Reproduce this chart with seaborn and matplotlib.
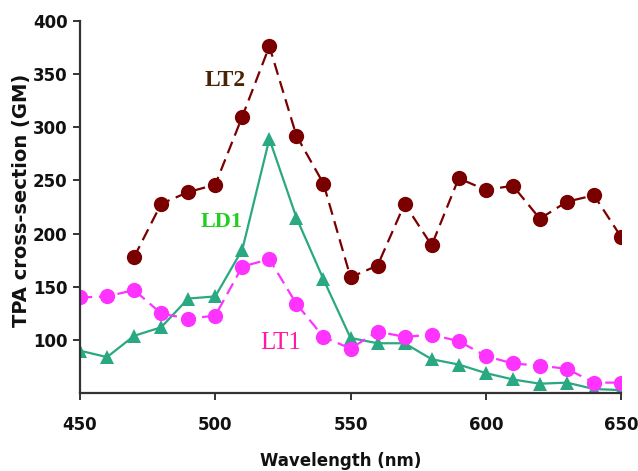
import numpy as np
import pandas as pd
import matplotlib
matplotlib.use("Agg")
import matplotlib.pyplot as plt
import seaborn as sns

# ---------- Data ----------
wavelength = [450, 460, 470, 480, 490, 500, 510, 520, 530, 540, 550,
              560, 570, 580, 590, 600, 610, 620, 630, 640, 650]

lt2 = [np.nan, np.nan, 178, 228, 239, 246, 310, 376, 292, 247, 159,
       170, 228, 189, 252, 241, 245, 214, 230, 236, 197]
ld1 = [90, 84, 104, 112, 139, 141, 185, 289, 215, 157, 102,
       97, 97, 82, 77, 69, 63, 59, 60, 54, 53]
lt1 = [140, 141, 147, 125, 120, 123, 169, 176, 134, 103, 92,
       108, 103, 105, 99, 85, 78, 76, 73, 60, 60]

series_names = ["LT2", "LD1", "LT1"]
colors = {"LT2": "#7a0000", "LD1": "#2aa882", "LT1": "#ff33ff"}
label_colors = {"LT2": "#4a2306", "LD1": "#1fd01f", "LT1": "#ff1aa6"}

df = pd.DataFrame({"wavelength": wavelength, "LT2": lt2, "LD1": ld1, "LT1": lt1})
long_df = df.melt(id_vars="wavelength", var_name="compound", value_name="tpa").dropna()

# ---------- Plot ----------
sns.set_style("ticks")
plt.rcParams["font.family"] = ["DejaVu Sans"]

fig = plt.figure(figsize=(6.38, 4.71), dpi=100)
ax = fig.add_axes([0.1254, 0.165, 0.848, 0.791])

styles = {
    "LT2": dict(marker="o", markersize=11),
    "LD1": dict(marker="^", markersize=10),
    "LT1": dict(marker="o", markersize=11),
}
dashed = {"LT2": True, "LD1": False, "LT1": True}

for name in series_names:
    sub = long_df[long_df["compound"] == name]
    n_before = len(ax.lines)
    sns.lineplot(data=sub, x="wavelength", y="tpa", ax=ax, color=colors[name],
                 linewidth=1.6, markeredgewidth=0, legend=False,
                 **styles[name])
    if dashed[name]:
        for ln in ax.lines[n_before:]:
            ln.set_linestyle((0, (5.5, 3)))

# series labels
ax.text(503.5, 344, "LT2", color=label_colors["LT2"], fontsize=17,
        fontweight="bold", family="Liberation Serif", ha="center", va="center")
ax.text(502.5, 211, "LD1", color=label_colors["LD1"], fontsize=16,
        fontweight="bold", family="Liberation Serif", ha="center", va="center")
ax.text(524, 97, "LT1", color=label_colors["LT1"], fontsize=18,
        family="Liberation Serif", ha="center", va="center")

ax.set_xlim(450, 650)
ax.set_ylim(50, 400)
ax.set_xticks([450, 500, 550, 600, 650])
ax.set_yticks([100, 150, 200, 250, 300, 350, 400])
ax.spines["left"].set_bounds(50, 400)
sns.despine(ax=ax)
for sp in ("left", "bottom"):
    ax.spines[sp].set_linewidth(1.6)
    ax.spines[sp].set_color("#333333")
ax.tick_params(axis="both", length=5, width=1.4, color="#333333",
               labelsize=12, pad=4, labelcolor="#111111")
for lab in ax.get_xticklabels() + ax.get_yticklabels():
    lab.set_fontweight("bold")
ax.tick_params(axis="x", pad=11)

ax.set_xlabel("Wavelength (nm)", fontsize=12, fontweight="bold", color="#111111")
ax.set_ylabel("TPA cross-section (GM)", fontsize=14, fontweight="bold", color="#111111")
ax.xaxis.set_label_coords(0.482, -0.158)
ax.yaxis.set_label_coords(-0.0906, 0.519)

fig.savefig("out.png", dpi=100)
